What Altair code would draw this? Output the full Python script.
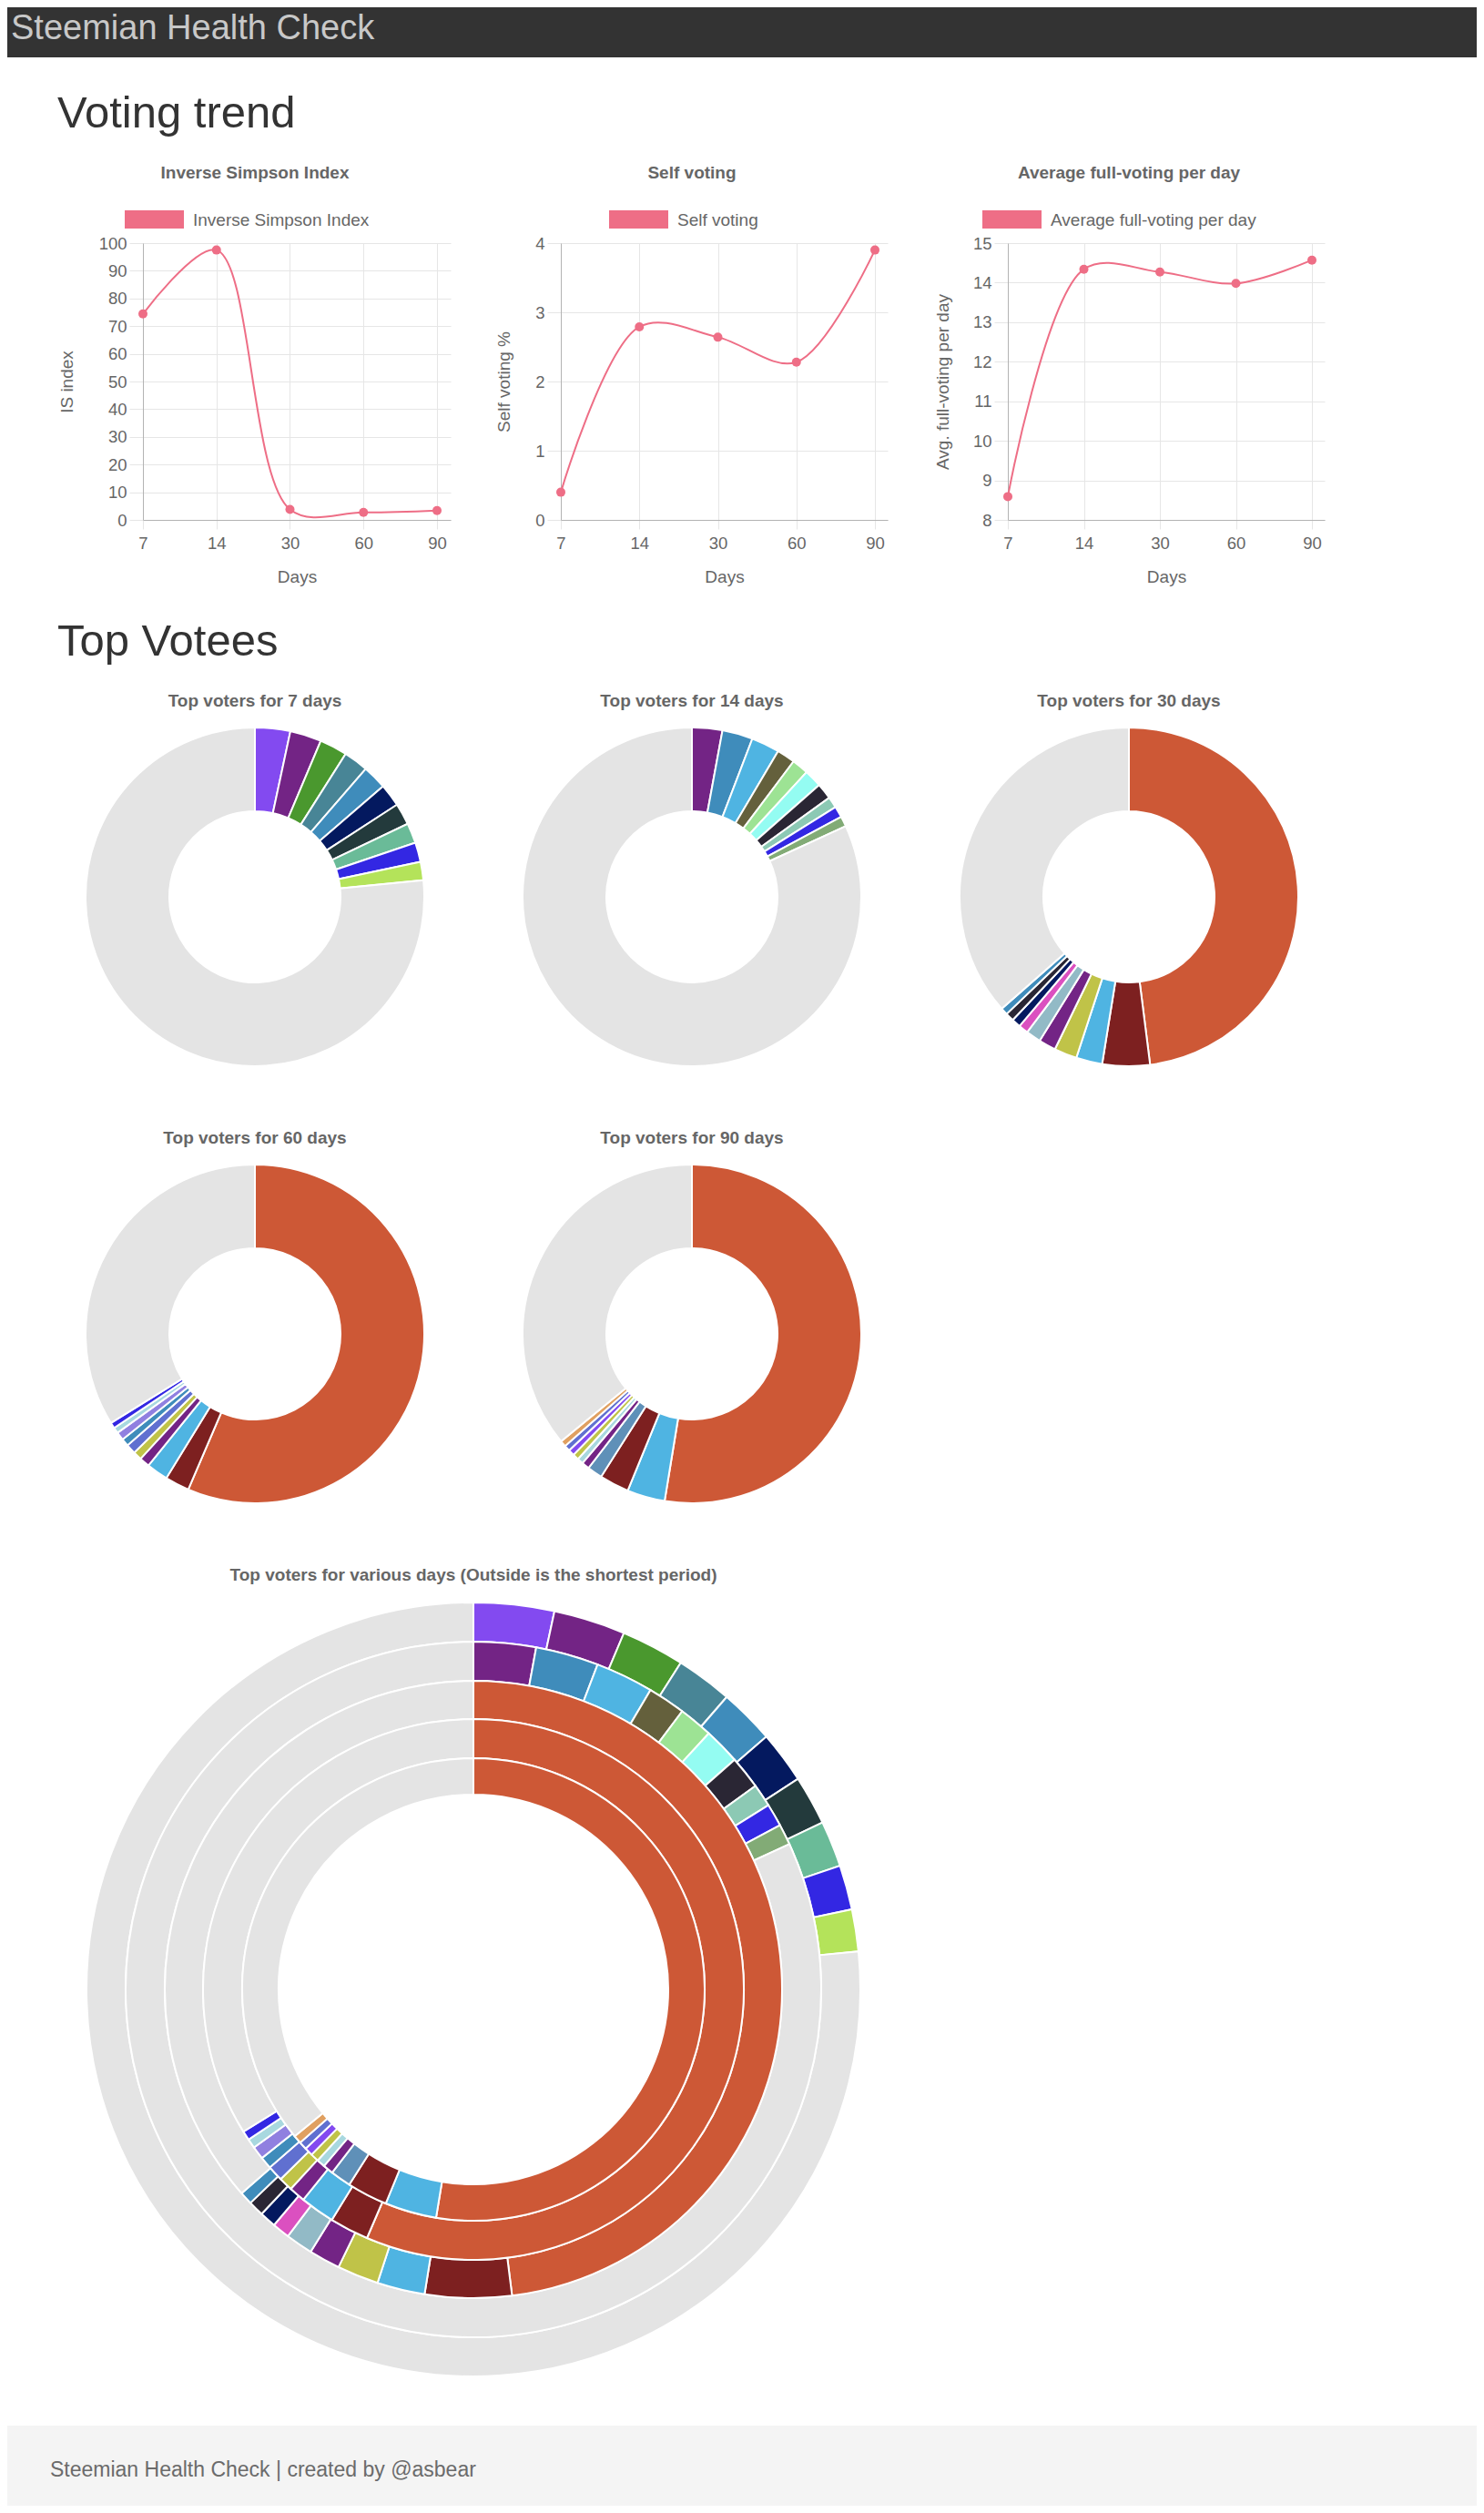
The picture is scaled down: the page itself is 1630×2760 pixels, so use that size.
import json
import altair as alt
import pandas as pd

FONT = "Liberation Sans"
PINK = "#ee6e86"
GRID = "#e6e6e6"
AXIS_LINE = "#b3b3b3"
TXT = "#666666"

# ---------------- data ----------------
days = ["7", "14", "30", "60", "90"]
is_index = [74.4, 97.5, 3.8, 2.7, 3.4]
self_voting = [0.40, 2.79, 2.64, 2.28, 3.90]
avg_full_voting = [8.59, 14.34, 14.27, 13.98, 14.57]
is_ticks = [0, 10, 20, 30, 40, 50, 60, 70, 80, 90, 100]
sv_ticks = [0, 1, 2, 3, 4]
af_ticks = [8, 9, 10, 11, 12, 13, 14, 15]

voter_keys = ["v01", "v02", "v03", "v04", "v05", "v06", "v07", "v08", "v09", "v10",
              "v11", "v12", "v13", "v14", "v15", "v16", "v17", "v18", "v19", "v20",
              "v21", "v22", "v23", "v24", "v25", "v26", "v27", "others"]
voter_colors = ["#834af0", "#732485", "#4a982e", "#488596", "#3f8cbb", "#04195f", "#233a3c",
                "#6abb98", "#3327e3", "#b4e35a", "#4fb4e2", "#64603c", "#9de394", "#94fcf2",
                "#2a2634", "#8cc9b4", "#82ab76", "#cd5836", "#7d2020", "#c0c348", "#92bac6",
                "#db50c0", "#6070d0", "#9080e0", "#a8d8df", "#5f90b8", "#e0a060", "#e4e4e4"]

top7_voters = ["v01", "v02", "v03", "v04", "v05", "v06", "v07", "v08", "v09", "v10", "others"]
top7_share = [3.36, 3.00, 2.64, 2.36, 2.31, 2.17, 2.06, 1.92, 1.86, 1.75, 76.57]
top14_voters = ["v02", "v05", "v11", "v12", "v13", "v14", "v15", "v16", "v09", "v17", "others"]
top14_share = [2.89, 2.92, 2.69, 1.75, 1.58, 1.69, 1.53, 1.06, 1.06, 0.97, 81.86]
top30_voters = ["v18", "v19", "v11", "v20", "v02", "v21", "v22", "v06", "v15", "v05", "others"]
top30_share = [48.00, 4.53, 2.50, 2.17, 1.64, 1.42, 0.92, 0.86, 0.81, 0.67, 36.48]
top60_voters = ["v18", "v19", "v11", "v02", "v20", "v23", "v05", "v24", "v25", "v09", "others"]
top60_share = [56.44, 2.33, 2.06, 0.97, 0.83, 0.94, 0.72, 0.78, 0.56, 0.56, 33.81]
top90_voters = ["v18", "v11", "v19", "v26", "v02", "v25", "v20", "v01", "v23", "v27", "others"]
top90_share = [52.58, 3.61, 2.83, 1.44, 0.72, 0.58, 0.58, 0.58, 0.56, 0.58, 35.94]


# ---------------- helpers ----------------
def text_layer(txt, x, y, size, color, weight="normal", align="left"):
    return alt.Chart(pd.DataFrame({"t": [txt]})).mark_text(
        font=FONT, fontSize=size, fontWeight=weight, color=color, align=align,
        baseline="alphabetic"
    ).encode(text="t:N", x=alt.value(x), y=alt.value(y))


def rect_layer(x, x2, y, y2, color):
    return alt.Chart(pd.DataFrame({"r": [0]})).mark_rect(color=color).encode(
        x=alt.value(x), x2=alt.value(x2), y=alt.value(y), y2=alt.value(y2))


def spacer(w, h):
    return alt.Chart(pd.DataFrame({"s": [0]})).mark_rect(opacity=0).encode(
        x=alt.value(0), y=alt.value(0)).properties(width=w, height=h)


PLOT_H = 304


def line_panel(values, ticks, y_title, title, label, width, last_x, title_cx, box_x, y_title_x):
    df = pd.DataFrame({"pos": list(range(len(days))), "day": days, "value": values})
    label_expr = json.dumps(days) + "[datum.value]"
    x = alt.X("pos:Q",
              scale=alt.Scale(domain=[0, (len(days) - 1) * width / last_x], nice=False, zero=False),
              axis=alt.Axis(values=list(range(len(days))), labelExpr=label_expr, labelAngle=0,
                            labelFlush=False, grid=True, gridColor=GRID, ticks=True, tickColor=GRID,
                            tickSize=10, domainColor=AXIS_LINE, labelFont=FONT, labelFontSize=18.5,
                            labelColor=TXT, labelPadding=6, title="Days", titleFont=FONT,
                            titleFontSize=19, titleFontWeight="normal", titleColor=TXT,
                            titleX=width / 2, titleY=62, titleAlign="center",
                            titleBaseline="middle"))
    y = alt.Y("value:Q",
              scale=alt.Scale(domain=[ticks[0], ticks[-1]], nice=False, zero=False),
              axis=alt.Axis(values=ticks, labelFlush=False, grid=True, gridColor=GRID, ticks=True,
                            tickColor=GRID, tickSize=15, domainColor=AXIS_LINE, labelFont=FONT,
                            labelFontSize=18.5, labelColor=TXT, labelPadding=3, title=y_title,
                            titleFont=FONT, titleFontSize=19, titleFontWeight="normal",
                            titleColor=TXT, titleX=y_title_x, titleY=PLOT_H / 2, titleAngle=270,
                            titleAlign="center", titleBaseline="middle"))
    base = alt.Chart(df).encode(x=x, y=y)
    line = base.mark_line(color=PINK, strokeWidth=2, interpolate="catmull-rom")
    pts = base.mark_point(filled=True, size=100, color=PINK, opacity=1)
    return alt.layer(
        line, pts,
        text_layer(title, title_cx, -71, 19, TXT, weight="bold", align="center"),
        rect_layer(box_x, box_x + 65, -36, -16, PINK),
        text_layer(label, box_x + 75, -19, 19, TXT),
    ).properties(width=width, height=PLOT_H)


def donut(voters, shares, cx, cy, r_in, r_out):
    df = pd.DataFrame({"voter": voters, "share": shares, "idx": list(range(len(voters)))})
    return alt.Chart(df).mark_arc(innerRadius=r_in, outerRadius=r_out, stroke="white",
                                  strokeWidth=2).encode(
        theta=alt.Theta("share:Q", stack=True, scale=alt.Scale(domain=[0, 100])),
        order=alt.Order("idx:Q"),
        color=alt.Color("voter:N", scale=alt.Scale(domain=voter_keys, range=voter_colors),
                        legend=None),
        x=alt.value(cx), y=alt.value(cy))


W = 1614

# ---------------- row 1: header ----------------
row1 = alt.layer(
    rect_layer(0, W, 0, 55, "#333333"),
    text_layer("Steemian Health Check", 4, 35, 38, "#c8c8c8"),
    text_layer("Voting trend", 55, 132, 49, "#333333"),
).properties(width=W, height=259)

# ---------------- row 2: line charts ----------------
c1 = line_panel(is_index, is_ticks, "IS index", "Inverse Simpson Index", "Inverse Simpson Index",
                338, 323, 123, -20, -84)
c2 = line_panel(self_voting, sv_ticks, "Self voting %", "Self voting", "Self voting",
                359, 345, 144, 53, -63)
c3 = line_panel(avg_full_voting, af_ticks, "Avg. full-voting per day", "Average full-voting per day",
                "Average full-voting per day", 348, 334, 133, -28, -72)
row2 = alt.hconcat(spacer(149, PLOT_H), c1, spacer(121, PLOT_H), c2, spacer(132, PLOT_H), c3,
                   spacing=0, bounds="flush")

# ---------------- row 3: donuts + footer ----------------
H3 = 2181
ring_r = [425, 382, 339, 297, 254, 214]
periods = [(top7_voters, top7_share), (top14_voters, top14_share), (top30_voters, top30_share),
           (top60_voters, top60_share), (top90_voters, top90_share)]
small_pos = [(272, 414), (752, 414), (1232, 414), (272, 894), (752, 894)]
small_titles = ["Top voters for 7 days", "Top voters for 14 days", "Top voters for 30 days",
                "Top voters for 60 days", "Top voters for 90 days"]

layers3 = [text_layer("Top Votees", 55, 149, 49, "#333333")]
for (vs, sh), (cx, cy), t in zip(periods, small_pos, small_titles):
    layers3.append(donut(vs, sh, cx, cy, 94, 186))
    layers3.append(text_layer(t, cx, cy - 209, 19, TXT, weight="bold", align="center"))

big_cx, big_cy = 512, 1614
layers3.append(text_layer("Top voters for various days (Outside is the shortest period)",
                          big_cx, 1165, 19, TXT, weight="bold", align="center"))
for i, (vs, sh) in enumerate(periods):
    layers3.append(donut(vs, sh, big_cx, big_cy, ring_r[i + 1], ring_r[i]))

layers3.append(rect_layer(0, W, 2093, H3, "#f4f4f4"))
layers3.append(text_layer("Steemian Health Check | created by @asbear", 47, 2149, 23, "#6b6b6b"))

row3 = alt.layer(*layers3).properties(width=W, height=H3)

# the nested line-chart row counts as zero height in flush layout: reserve its height
chart = alt.vconcat(row1, row2, spacer(1, PLOT_H), row3, spacing=0, bounds="flush").properties(
    padding=0).configure_view(strokeWidth=0)

chart.save("out.html", embed_options={"renderer": "svg", "actions": False})
